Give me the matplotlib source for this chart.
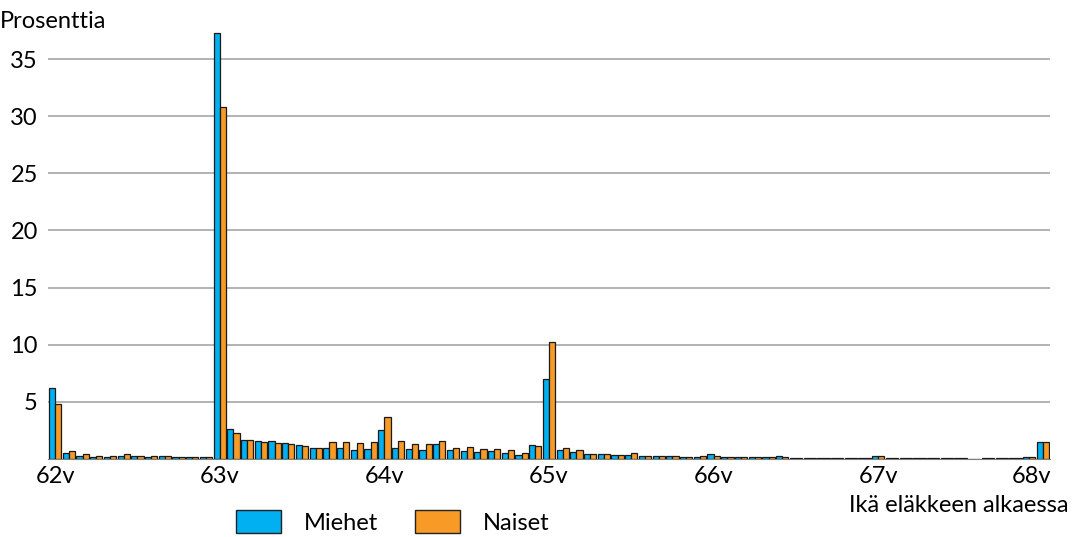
import numpy as np
import matplotlib
matplotlib.use('agg')
import matplotlib.pyplot as plt
import matplotlib.transforms as mtransforms
from matplotlib.patches import Patch

plt.rcParams['font.family'] = ['Lato', 'DejaVu Sans']

# Monthly retirement age 62v .. 68v (73 months), share of retirees in percent
years = ['62v', '63v', '64v', '65v', '66v', '67v', '68v']

miehet = [
    6.2, 0.55, 0.23, 0.15, 0.15, 0.23, 0.3, 0.15, 0.23, 0.15, 0.15, 0.15,   # 62v
    37.3, 2.6, 1.66, 1.57, 1.57, 1.4, 1.2, 1.0, 1.0, 1.0, 0.76, 0.9,        # 63v
    2.5, 1.0, 0.9, 0.8, 1.28, 0.8, 0.7, 0.58, 0.7, 0.5, 0.38, 1.2,          # 64v
    7.0, 0.79, 0.58, 0.47, 0.47, 0.38, 0.38, 0.3, 0.3, 0.3, 0.2, 0.2,       # 65v
    0.4, 0.15, 0.15, 0.15, 0.15, 0.25, 0.1, 0.1, 0.1, 0.1, 0.1, 0.1,        # 66v
    0.25, 0.1, 0.1, 0.1, 0.1, 0.1, 0.1, 0.0, 0.1, 0.1, 0.1, 0.15,           # 67v
    1.45,                                                                    # 68v
]
naiset = [
    4.8, 0.73, 0.4, 0.3, 0.3, 0.4, 0.23, 0.3, 0.23, 0.15, 0.15, 0.15,       # 62v
    30.8, 2.25, 1.66, 1.49, 1.4, 1.28, 1.1, 1.0, 1.5, 1.5, 1.4, 1.45,       # 63v
    3.65, 1.57, 1.31, 1.28, 1.57, 1.0, 1.08, 0.9, 0.9, 0.8, 0.5, 1.1,       # 64v
    10.2, 0.93, 0.79, 0.47, 0.47, 0.38, 0.5, 0.3, 0.3, 0.3, 0.2, 0.3,       # 65v
    0.25, 0.15, 0.15, 0.15, 0.15, 0.15, 0.1, 0.1, 0.1, 0.1, 0.1, 0.1,       # 66v
    0.25, 0.1, 0.1, 0.1, 0.1, 0.1, 0.1, 0.0, 0.1, 0.1, 0.1, 0.2,            # 67v
    1.45,                                                                    # 68v
]

blue = '#00b0f0'
orange = '#f79a26'
fs = 17

fig = plt.figure(figsize=(10.73, 5.37), dpi=100)
ax = fig.add_axes([0.0443, 0.1453, 0.9347, 0.8193])

x = np.arange(len(miehet))
w = 0.45
ax.bar(x - w / 2, miehet, width=w, color=blue, edgecolor='#1a1a1a', linewidth=0.9, zorder=3)
ax.bar(x + w / 2, naiset, width=w, color=orange, edgecolor='#1a1a1a', linewidth=0.9, zorder=3)

ax.set_xlim(-0.55, 72.55)
ax.set_ylim(0, 38.5)
ax.set_yticks([5, 10, 15, 20, 25, 30, 35])
ax.yaxis.grid(True, color='#a6a6a6', linewidth=1.2, zorder=0)
ax.set_xticks(np.arange(0, 73, 12))
ax.set_xticklabels(years)
ax.tick_params(axis='both', length=0, labelsize=fs, colors='black')
ax.tick_params(axis='y', pad=7)
ax.tick_params(axis='x', pad=5)
for s in ['top', 'right', 'left']:
    ax.spines[s].set_visible(False)
ax.spines['bottom'].set_color('#808080')

# last label is pushed inside the plot area like in the original
last = ax.get_xticklabels()[-1]
last.set_horizontalalignment('right')
last.set_transform(last.get_transform() + mtransforms.ScaledTranslation(8 / 100, 0, fig.dpi_scale_trans))

fig.text(0.0, 0.96, 'Prosenttia', fontsize=fs, ha='left', va='center')
fig.text(0.996, 0.058, 'Ikä eläkkeen alkaessa', fontsize=fs, ha='right', va='center')

handles = [Patch(facecolor=blue, edgecolor='#222222', label='Miehet'),
           Patch(facecolor=orange, edgecolor='#222222', label='Naiset')]
fig.legend(handles=handles, loc='center', bbox_to_anchor=(0.366, 0.028), ncol=2,
           frameon=False, fontsize=fs, handlelength=1.9, handleheight=1.1,
           columnspacing=1.6, handletextpad=0.95)

fig.savefig('out.png', dpi=100)
